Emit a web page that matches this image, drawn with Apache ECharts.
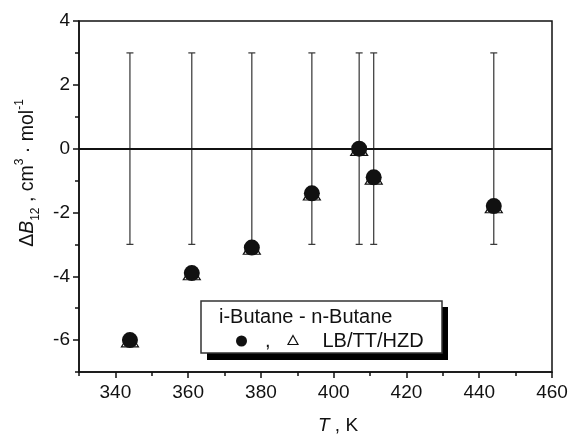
<!DOCTYPE html>
<html>
<head>
<meta charset="utf-8">
<script src="https://cdn.jsdelivr.net/npm/echarts@6/dist/echarts.min.js"></script>
<style>
  html, body { margin: 0; padding: 0; background: #fff; }
  #chart { width: 571px; height: 440px; }
</style>
</head>
<body>
<div id="chart"></div>
<script>
// Temperatures (K) and excess second virial coefficient difference values
const temperatures = [344, 361, 377.5, 394, 407, 411, 444];
const dB12Circles = [-6.0, -3.9, -3.1, -1.4, 0.0, -0.9, -1.8];
const dB12Triangles = [-6.0, -3.9, -3.1, -1.4, 0.0, -0.9, -1.8];

// Uncertainty band drawn at each temperature
const errLow = [-3, -3, -3, -3, -3, -3, -3];
const errHigh = [3, 3, 3, 3, 3, 3, 3];

// Axis ticks
const xMajorTicks = [340, 360, 380, 400, 420, 440, 460];
const xMinorTicks = [330, 350, 370, 390, 410, 430, 450];
const yMajorTicks = [-6, -4, -2, 0, 2, 4];
const yMinorTicks = [-7, -5, -3, -1, 1, 3];

const FONT = '"Liberation Sans", Arial, Helvetica, sans-serif';
const INK = '#111';

const chart = echarts.init(document.getElementById('chart'), null, { renderer: 'canvas' });

const baseX = {
  type: 'value', min: 330, max: 460, gridIndex: 0, position: 'bottom',
  splitLine: { show: false }
};
const baseY = {
  type: 'value', min: -7, max: 4, gridIndex: 0, position: 'left',
  splitLine: { show: false }
};

function errorBar(params, api) {
  const x = api.value(0);
  const pLo = api.coord([x, api.value(1)]);
  const pHi = api.coord([x, api.value(2)]);
  const hw = 3.5;
  const st = { stroke: '#333', lineWidth: 1.2 };
  return {
    type: 'group',
    children: [
      { type: 'line', shape: { x1: pHi[0], y1: pHi[1], x2: pLo[0], y2: pLo[1] }, style: st },
      { type: 'line', shape: { x1: pHi[0] - hw, y1: pHi[1], x2: pHi[0] + hw, y2: pHi[1] }, style: st },
      { type: 'line', shape: { x1: pLo[0] - hw, y1: pLo[1], x2: pLo[0] + hw, y2: pLo[1] }, style: st }
    ]
  };
}

const option = {
  animation: false,
  backgroundColor: '#fff',
  grid: {
    left: 79, right: 19, top: 21, bottom: 68,
    show: true, borderColor: INK, borderWidth: 1.5, backgroundColor: 'transparent'
  },
  xAxis: [
    Object.assign({}, baseX, {
      axisLine: { show: true, onZero: false, lineStyle: { color: INK, width: 1.5 } },
      axisTick: { show: true, inside: false, length: 6, customValues: xMajorTicks, lineStyle: { color: INK, width: 1.5 } },
      axisLabel: { show: true, customValues: xMajorTicks, margin: 11, color: INK, fontSize: 19, fontFamily: FONT }
    }),
    Object.assign({}, baseX, {
      axisLine: { show: false, onZero: false },
      axisTick: { show: true, inside: false, length: 4, customValues: xMinorTicks, lineStyle: { color: INK, width: 1.5 } },
      axisLabel: { show: false }
    })
  ],
  yAxis: [
    Object.assign({}, baseY, {
      axisLine: { show: true, onZero: false, lineStyle: { color: INK, width: 1.5 } },
      axisTick: { show: true, inside: false, length: 6, customValues: yMajorTicks, lineStyle: { color: INK, width: 1.5 } },
      axisLabel: { show: true, customValues: yMajorTicks, margin: 9, color: INK, fontSize: 19, fontFamily: FONT }
    }),
    Object.assign({}, baseY, {
      axisLine: { show: false, onZero: false },
      axisTick: { show: true, inside: false, length: 4, customValues: yMinorTicks, lineStyle: { color: INK, width: 1.5 } },
      axisLabel: { show: false }
    })
  ],
  series: [
    {
      type: 'custom',
      name: 'uncertainty',
      renderItem: errorBar,
      data: temperatures.map((t, i) => [t, errLow[i], errHigh[i]]),
      encode: { x: 0, y: [1, 2] },
      z: 1,
      silent: true
    },
    {
      type: 'scatter',
      name: 'LB/TT/HZD',
      data: temperatures.map((t, i) => [t, dB12Triangles[i]]),
      symbol: 'triangle',
      symbolSize: [17, 13.5],
      itemStyle: { color: '#fff', borderColor: INK, borderWidth: 1.2, opacity: 1 },
      z: 3,
      markLine: {
        silent: true,
        symbol: 'none',
        label: { show: false },
        lineStyle: { color: INK, width: 2, type: 'solid' },
        data: [{ yAxis: 0 }],
        z: 2
      }
    },
    {
      type: 'scatter',
      name: 'i-Butane - n-Butane',
      data: temperatures.map((t, i) => [t, dB12Circles[i]]),
      symbol: 'circle',
      symbolSize: 16,
      itemStyle: { color: INK, opacity: 1 },
      z: 4
    }
  ],
  graphic: [
    // axis titles
    {
      type: 'text',
      x: 28, y: 173,
      rotation: Math.PI / 2,
      style: {
        text: '{n|Δ}{i|B}{sub|12}{n| , cm}{sup|3}{n| · mol}{sup|-1}',
        textAlign: 'center',
        textVerticalAlign: 'middle',
        fill: INK,
        rich: {
          n: { fontSize: 19.5, fontFamily: FONT, fill: INK, lineHeight: 28 },
          i: { fontSize: 19.5, fontFamily: FONT, fontStyle: 'italic', fill: INK, lineHeight: 28 },
          sub: { fontSize: 12, fontFamily: FONT, fill: INK, verticalAlign: 'bottom', lineHeight: 28 },
          sup: { fontSize: 12, fontFamily: FONT, fill: INK, verticalAlign: 'top', lineHeight: 28 }
        }
      }
    },
    {
      type: 'text',
      x: 338, y: 426,
      style: {
        text: '{i|T}{n| , K}',
        textAlign: 'center',
        textVerticalAlign: 'middle',
        fill: INK,
        rich: {
          n: { fontSize: 19, fontFamily: FONT, fill: INK },
          i: { fontSize: 19, fontFamily: FONT, fontStyle: 'italic', fill: INK }
        }
      }
    },
    // legend box with drop shadow
    {
      type: 'rect',
      shape: { x: 207, y: 307, width: 241, height: 53 },
      style: { fill: '#000' },
      z: 10
    },
    {
      type: 'rect',
      shape: { x: 201, y: 301, width: 241, height: 52 },
      style: { fill: '#fff', stroke: '#333', lineWidth: 1.5 },
      z: 11
    },
    {
      type: 'text',
      x: 219, y: 317,
      style: { text: 'i-Butane - n-Butane', font: '20px ' + FONT, fill: INK, textVerticalAlign: 'middle' },
      z: 12
    },
    {
      type: 'circle',
      shape: { cx: 241.5, cy: 341, r: 5.5 },
      style: { fill: INK },
      z: 12
    },
    {
      type: 'text',
      x: 265, y: 341,
      style: { text: ',', font: '20px ' + FONT, fill: INK, textVerticalAlign: 'middle' },
      z: 12
    },
    {
      type: 'polygon',
      shape: { points: [[293, 335.5], [298, 344.5], [288, 344.5]] },
      style: { fill: '#fff', stroke: INK, lineWidth: 1.2 },
      z: 12
    },
    {
      type: 'text',
      x: 322.5, y: 341,
      style: { text: 'LB/TT/HZD', font: '20px ' + FONT, fill: INK, textVerticalAlign: 'middle' },
      z: 12
    }
  ]
};

chart.setOption(option);
</script>
</body>
</html>
